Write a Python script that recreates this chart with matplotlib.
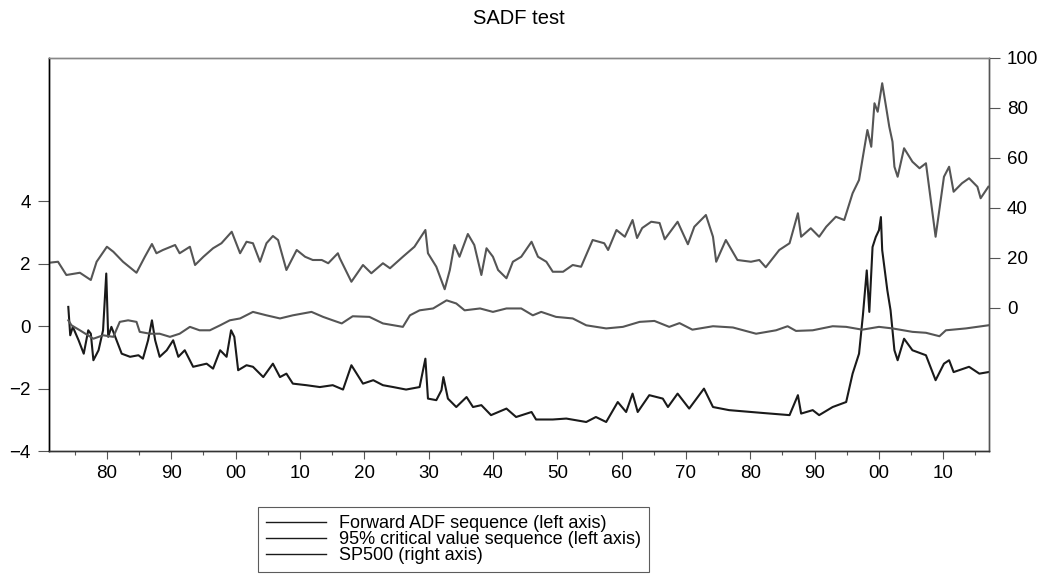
import matplotlib
matplotlib.use("Agg")
import matplotlib.pyplot as plt
from matplotlib.ticker import FixedLocator, FuncFormatter
import numpy as np

plt.rcParams['font.family'] = ['Liberation Sans', 'DejaVu Sans']

# values (decimal years)
sp_years = [1871.0, 1872.4, 1873.7, 1875.8, 1877.5, 1878.4, 1880.0, 1881.0, 1882.5, 1884.6,
            1885.9, 1887.0, 1887.7, 1888.7, 1890.6, 1891.3, 1892.9, 1893.7, 1895.0, 1896.5,
            1897.8, 1899.4, 1900.7, 1901.7, 1902.7, 1903.8, 1904.8, 1905.8, 1906.6, 1907.9,
            1909.5, 1910.8, 1912.0, 1913.4, 1914.4, 1915.9, 1916.2, 1918.0, 1919.8, 1921.1,
            1922.9, 1924.0, 1926.0, 1927.8, 1929.5, 1929.9, 1931.2, 1932.5, 1933.3, 1934.0,
            1934.8, 1936.1, 1937.1, 1938.2, 1939.0, 1940.0, 1940.8, 1942.1, 1943.1, 1944.4,
            1946.0, 1947.0, 1948.3, 1949.3, 1950.9, 1952.4, 1953.7, 1955.5, 1957.3, 1957.9,
            1959.2, 1960.5, 1961.7, 1962.4, 1963.2, 1964.6, 1965.9, 1966.7, 1968.7, 1970.3,
            1971.3, 1973.1, 1974.2, 1974.7, 1976.2, 1978.0, 1980.1, 1981.4, 1982.4, 1984.5,
            1986.1, 1987.4, 1987.9, 1989.4, 1990.7, 1991.8, 1993.3, 1994.6, 1995.9, 1996.9,
            1997.5, 1998.2, 1998.8, 1999.3, 1999.8, 2000.5, 2001.1, 2001.6, 2002.1, 2002.4,
            2002.9, 2003.9, 2005.2, 2006.3, 2007.3, 2008.8, 2010.1, 2010.9, 2011.6, 2012.9,
            2014.0, 2015.3, 2015.8, 2017.0]
sp500 = [18.1, 18.5, 13.2, 14.1, 11.2, 18.5, 24.5, 22.5, 18.5, 14.1,
         20.5, 25.6, 21.9, 23.2, 25.2, 21.9, 24.5, 17.2, 20.5, 23.9,
         25.9, 30.5, 21.9, 26.5, 25.9, 18.5, 25.9, 28.8, 27.2, 15.2,
         23.2, 20.5, 19.2, 19.2, 17.9, 21.9, 19.9, 10.5, 17.2, 13.9,
         17.9, 15.9, 20.5, 24.5, 31.2, 21.9, 16.5, 7.5, 15.2, 25.2,
         20.5, 29.6, 25.2, 13.2, 23.9, 20.5, 15.2, 11.9, 18.5, 20.5,
         26.5, 20.5, 18.5, 14.5, 14.5, 17.2, 16.5, 27.2, 25.9, 23.2,
         31.2, 28.5, 35.2, 28.0, 32.0, 34.5, 34.0, 27.5, 34.5, 25.5,
         32.5, 37.2, 28.5, 18.5, 27.2, 19.2, 18.5, 19.2, 16.3, 23.2,
         25.9, 37.9, 28.5, 31.9, 28.5, 32.5, 36.5, 35.2, 45.9, 51.2,
         60.5, 71.2, 64.5, 81.9, 78.5, 89.9, 80.5, 72.5, 66.5, 56.5,
         52.5, 63.9, 58.5, 55.9, 57.9, 28.5, 52.5, 56.5, 46.5, 49.9,
         51.9, 48.5, 43.9, 48.5]

cv_years = [1874.0, 1874.5, 1875.8, 1877.9, 1879.4, 1881.0, 1882.0, 1883.3, 1884.6, 1885.1,
            1886.7, 1888.2, 1889.8, 1891.3, 1892.9, 1894.4, 1896.0, 1897.6, 1899.1, 1900.7,
            1902.7, 1904.8, 1906.9, 1908.9, 1911.8, 1913.6, 1915.1, 1916.5, 1918.2, 1920.8,
            1922.9, 1926.0, 1927.1, 1928.6, 1930.7, 1932.8, 1934.3, 1935.6, 1938.0, 1940.0,
            1942.1, 1944.4, 1946.2, 1947.5, 1949.8, 1952.4, 1954.5, 1957.6, 1960.2, 1962.8,
            1965.1, 1967.4, 1969.0, 1971.0, 1974.2, 1977.3, 1980.9, 1984.0, 1985.8, 1987.1,
            1989.7, 1992.8, 1994.9, 1997.4, 2000.0, 2002.1, 2005.2, 2007.3, 2009.4, 2010.4,
            2013.5, 2017.0]
crit95 = [0.19, 0.03, -0.13, -0.40, -0.29, -0.34, 0.14, 0.19, 0.14, -0.18,
          -0.24, -0.24, -0.34, -0.24, -0.02, -0.13, -0.13, 0.03, 0.19, 0.25,
          0.46, 0.35, 0.25, 0.35, 0.46, 0.30, 0.19, 0.09, 0.32, 0.30,
          0.09, -0.02, 0.35, 0.51, 0.57, 0.83, 0.73, 0.51, 0.57, 0.46,
          0.57, 0.57, 0.35, 0.46, 0.30, 0.25, 0.03, -0.07, -0.02, 0.14,
          0.17, -0.02, 0.10, -0.11, 0.00, -0.04, -0.24, -0.13, 0.00, -0.15,
          -0.13, 0.00, -0.02, -0.11, -0.02, -0.07, -0.18, -0.21, -0.32, -0.13,
          -0.07, 0.03]

adf_years = [1874.0, 1874.3, 1874.7, 1875.6, 1876.4, 1877.1, 1877.5, 1877.9, 1878.7, 1879.4,
             1879.9, 1880.2, 1880.7, 1881.5, 1882.3, 1883.6, 1884.9, 1885.6, 1886.4, 1887.0,
             1887.5, 1888.2, 1889.3, 1890.3, 1891.1, 1892.1, 1893.4, 1895.5, 1896.5, 1897.6,
             1898.6, 1899.3, 1899.8, 1900.4, 1901.7, 1902.7, 1904.3, 1905.8, 1906.9, 1907.9,
             1908.9, 1911.0, 1913.1, 1915.1, 1916.7, 1918.0, 1919.8, 1921.4, 1922.9, 1924.5,
             1926.5, 1928.6, 1929.5, 1929.9, 1931.2, 1932.0, 1932.3, 1933.0, 1934.3, 1935.9,
             1936.9, 1938.2, 1939.7, 1942.1, 1943.6, 1946.0, 1946.7, 1949.3, 1951.4, 1954.5,
             1956.0, 1957.6, 1959.4, 1960.7, 1961.7, 1962.5, 1964.3, 1966.4, 1967.2, 1968.7,
             1970.5, 1972.8, 1974.2, 1976.7, 1981.9, 1986.1, 1987.4, 1987.9, 1989.7, 1990.7,
             1992.8, 1994.9, 1995.9, 1996.9, 1997.5, 1998.1, 1998.5, 1999.0, 1999.5, 2000.0,
             2000.3, 2000.5, 2001.3, 2001.8, 2002.1, 2002.4, 2002.9, 2003.9, 2005.2, 2007.3,
             2008.8, 2010.1, 2010.9, 2011.6, 2014.0, 2015.6, 2017.0]
fwd_adf = [0.62, -0.29, -0.02, -0.45, -0.88, -0.13, -0.24, -1.09, -0.77, -0.13,
           1.69, -0.34, -0.02, -0.45, -0.88, -0.98, -0.93, -1.04, -0.45, 0.19,
           -0.45, -0.98, -0.77, -0.45, -0.98, -0.77, -1.30, -1.20, -1.36, -0.77,
           -0.98, -0.13, -0.34, -1.41, -1.25, -1.30, -1.63, -1.20, -1.63, -1.52,
           -1.84, -1.89, -1.95, -1.89, -2.03, -1.25, -1.84, -1.73, -1.89, -1.95,
           -2.03, -1.95, -1.04, -2.32, -2.37, -2.05, -1.63, -2.32, -2.59, -2.27,
           -2.59, -2.53, -2.85, -2.64, -2.91, -2.75, -2.99, -2.99, -2.96, -3.07,
           -2.91, -3.07, -2.43, -2.75, -2.16, -2.75, -2.21, -2.32, -2.59, -2.16,
           -2.64, -2.00, -2.59, -2.69, -2.78, -2.85, -2.21, -2.80, -2.69, -2.85,
           -2.59, -2.43, -1.52, -0.88, 0.35, 1.79, 0.46, 2.54, 2.86, 3.08,
           3.50, 2.44, 1.15, 0.51, -0.13, -0.77, -1.09, -0.40, -0.77, -0.93,
           -1.73, -1.20, -1.09, -1.47, -1.30, -1.52, -1.47]

labels = ["Forward ADF sequence (left axis)",
          "95% critical value sequence (left axis)",
          "SP500 (right axis)"]

W, H = 1053, 579
fig = plt.figure(figsize=(W / 100, H / 100), dpi=100)
ax = fig.add_axes([49 / W, 1 - 451 / H, (989 - 49) / W, (451 - 58) / H])
ax2 = ax.twinx()

dark = '#1a1a1a'
grey = '#555555'
l1, = ax.plot(adf_years, fwd_adf, color=dark, lw=1.5)
l2, = ax.plot(cv_years, crit95, color=grey, lw=1.5)
l3, = ax2.plot(sp_years, sp500, color=grey, lw=1.5)

ax.set_xlim(1871.0, 2017.1)
ax.set_ylim(-4, 8.6)
ax2.set_ylim(-57.2, 100)

ax.set_yticks([-4, -2, 0, 2, 4])
ax2.set_yticks([0, 20, 40, 60, 80, 100])
ax.xaxis.set_major_locator(FixedLocator(np.arange(1880, 2011, 10)))
ax.xaxis.set_minor_locator(FixedLocator(np.arange(1875, 2016, 10)))
ax.xaxis.set_major_formatter(FuncFormatter(lambda v, p: "%02d" % (int(round(v)) % 100)))

fs = 13.5
ax.tick_params(axis='x', which='major', length=6, width=0.8, labelsize=fs, pad=4, color=grey)
ax.tick_params(axis='x', which='minor', length=3, width=0.8, color=grey)
ax.tick_params(axis='y', length=8, width=0.8, labelsize=fs, pad=5, color=grey)
ax2.tick_params(axis='y', length=8, width=0.8, labelsize=fs, pad=5, color=grey)

for a in (ax, ax2):
    a.spines['top'].set_color('#888888')
    a.spines['right'].set_color(grey)
    a.spines['left'].set_color('black')
    a.spines['bottom'].set_color('#333333')
    for s in a.spines.values():
        s.set_linewidth(1.0)

fig.text((49 + 989) / 2 / W, 1 - 19 / H, "SADF test", ha='center', va='center', fontsize=14.5)

leg = fig.legend([l1, l2, l3], labels, loc='upper left',
                 bbox_to_anchor=(258 / W, 1 - 507 / H), borderaxespad=0,
                 fontsize=13, handlelength=3.3, handletextpad=0.75,
                 labelspacing=-0.05, borderpad=0.45, fancybox=False, frameon=True)
leg.get_frame().set_edgecolor('#333333')
leg.get_frame().set_linewidth(0.8)
for ln in leg.get_lines():
    ln.set_linewidth(1.0)
    ln.set_color(dark)

fig.savefig("out.png", dpi=100)
